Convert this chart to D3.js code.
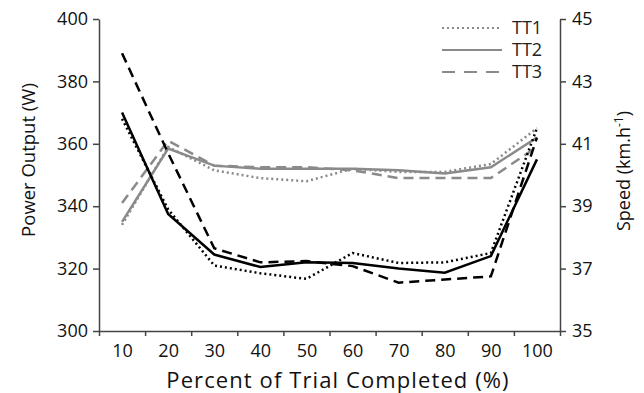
<!DOCTYPE html>
<html>
<head>
<meta charset="utf-8">
<script src="https://cdn.jsdelivr.net/npm/d3@7"></script>
<style>
  body { margin: 0; background: #fff; }
  svg { font-family: "Open Sans", sans-serif; }
</style>
</head>
<body>
<svg width="644" height="393"></svg>
<script>
// percent of trial completed
const pct = [10, 20, 30, 40, 50, 60, 70, 80, 90, 100];
// power output (W), black lines
const powerTT1 = [368, 339, 321, 318.5, 316.7, 325, 321.8, 322, 325, 365];
const powerTT2 = [370, 337.5, 324.5, 320.5, 322, 321.8, 320, 318.7, 324, 355];
const powerTT3 = [389, 357, 326.5, 322, 322.4, 320.8, 315.5, 316.5, 317.5, 362];
// speed (km/h), grey lines
const speedTT1 = [38.4, 40.9, 40.15, 39.9, 39.8, 40.2, 40.1, 40.1, 40.35, 41.5];
const speedTT2 = [38.5, 40.85, 40.3, 40.2, 40.2, 40.2, 40.15, 40.05, 40.25, 41.2];
const speedTT3 = [39.1, 41.1, 40.3, 40.25, 40.25, 40.15, 39.9, 39.9, 39.9, 40.9];
const trials = ["TT1", "TT2", "TT3"];
const powerTicks = [300, 320, 340, 360, 380, 400];
const speedTicks = [35, 37, 39, 41, 43, 45];

const svg = d3.select("svg");
const dash = {TT1: "2,3", TT2: null, TT3: "10,6"};
const font = "'Open Sans', sans-serif";

const x = d3.scaleLinear().domain([5, 105]).range([99, 560]);
const yP = d3.scaleLinear().domain([300, 400]).range([331, 19]);
const yS = d3.scaleLinear().domain([35, 45]).range([331, 19]);

// x axis: ticks on band edges, labels in the middle
const xTicks = d3.range(5, 106, 10);
svg.append("g").attr("transform", "translate(0,331)")
  .call(d3.axisBottom(x).tickValues(xTicks).tickSize(5).tickFormat("").tickSizeOuter(0))
  .call(g => g.selectAll("line,path").attr("stroke", "#444").attr("stroke-width", 1.5));
svg.append("g").attr("transform", "translate(0,331)")
  .call(d3.axisBottom(x).tickValues(pct).tickSize(0).tickPadding(13))
  .call(g => g.select(".domain").remove())
  .call(g => g.selectAll("text").attr("font-size", 18).attr("fill", "#111").attr("font-family", font));

svg.append("g").attr("transform", "translate(99,0)")
  .call(d3.axisLeft(yP).tickValues(powerTicks).tickSize(6).tickSizeOuter(0).tickPadding(5))
  .call(g => g.selectAll("line,path").attr("stroke", "#444").attr("stroke-width", 1.5))
  .call(g => g.selectAll("text").attr("font-size", 18).attr("fill", "#111").attr("font-family", font));

svg.append("g").attr("transform", "translate(560,0)")
  .call(d3.axisRight(yS).tickValues(speedTicks).tickSize(6).tickSizeOuter(0).tickPadding(6))
  .call(g => g.selectAll("line,path").attr("stroke", "#444").attr("stroke-width", 1.5))
  .call(g => g.selectAll("text").attr("font-size", 18).attr("fill", "#111").attr("font-family", font));

// axis titles
svg.append("text").attr("x", 338).attr("y", 388).attr("text-anchor", "middle")
  .attr("font-size", 22).attr("letter-spacing", 1.1).attr("fill", "#111")
  .text("Percent of Trial Completed (%)");
svg.append("text").attr("transform", "translate(35,160) rotate(-90)").attr("text-anchor", "middle")
  .attr("font-size", 18.5).attr("fill", "#111").text("Power Output (W)");
const st = svg.append("text").attr("transform", "translate(630,171) rotate(-90)").attr("text-anchor", "middle")
  .attr("font-size", 18).attr("fill", "#111");
st.append("tspan").text("Speed (km.h");
st.append("tspan").attr("dy", -7).attr("font-size", 12).text("-1");
st.append("tspan").attr("dy", 7).text(")");

// lines
const powerLine = d3.line().x((d, i) => x(pct[i])).y(d => yP(d));
const speedLine = d3.line().x((d, i) => x(pct[i])).y(d => yS(d));
const speeds = {TT1: speedTT1, TT2: speedTT2, TT3: speedTT3};
const powers = {TT1: powerTT1, TT2: powerTT2, TT3: powerTT3};

trials.forEach(t => {
  svg.append("path").datum(speeds[t]).attr("d", speedLine)
    .attr("fill", "none").attr("stroke", "#8a8a8a").attr("stroke-width", 2.5)
    .attr("stroke-dasharray", dash[t]);
});
trials.forEach(t => {
  svg.append("path").datum(powers[t]).attr("d", powerLine)
    .attr("fill", "none").attr("stroke", "#000").attr("stroke-width", 2.5)
    .attr("stroke-dasharray", dash[t]);
});

// legend
const leg = svg.append("g");
trials.forEach((t, i) => {
  const yy = 28 + i * 22;
  leg.append("line").attr("x1", 442).attr("x2", 502).attr("y1", yy).attr("y2", yy)
    .attr("stroke", "#8a8a8a").attr("stroke-width", 2)
    .attr("stroke-dasharray", t == "TT3" ? "13,9" : dash[t]);
  leg.append("text").attr("x", 512).attr("y", yy + 6).attr("font-size", 18)
    .attr("fill", "#222").text(t);
});
</script>
</body>
</html>
